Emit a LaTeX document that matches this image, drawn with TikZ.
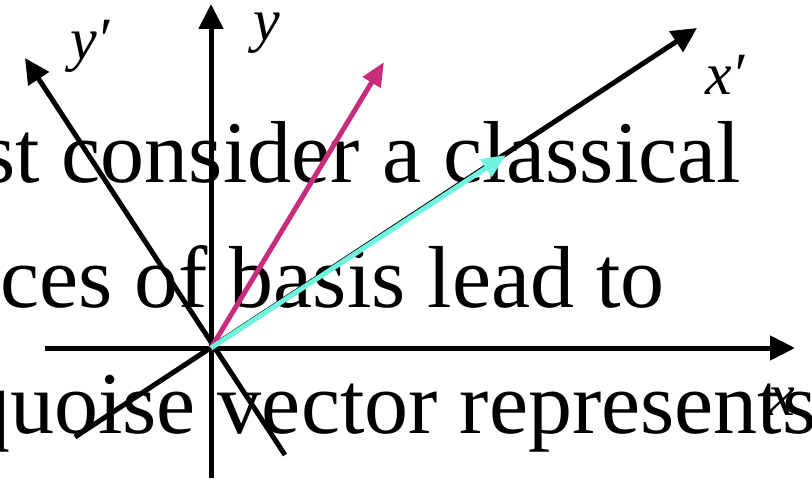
\documentclass[tikz,border=0pt]{standalone}
\usepackage{fontspec}
\setmainfont{Liberation Serif}
\usetikzlibrary{arrows.meta}
\definecolor{magvec}{HTML}{CA2C7C}
\definecolor{turqvec}{HTML}{70F4E0}

\begin{document}
\begin{tikzpicture}[x=1pt, y=-1pt,
  axis/.style={line width=5pt, -{Triangle[length=25pt,width=24pt]}},
  vec/.style={line width=5pt, -{Triangle[length=24pt,width=20pt]}},
  bgtext/.style={anchor=base west, inner sep=0pt, font=\fontsize{88}{100}\selectfont},
  lbl/.style={inner sep=0pt, font=\fontsize{60}{70}\selectfont\itshape}]
\useasboundingbox (0,0) rectangle (812,484);
\clip (0,0) rectangle (812,484);
% === slide text behind the axes ===
\node[bgtext] (line1) at (-19,183) {st consider a classical};
\node[bgtext] (line2) at (0,307) {ces of basis lead to};
\node[bgtext] (line3) at (-34,433) {quoise vector represents};

% === axes ===
\coordinate (O) at (211,348);
\coordinate (xs) at (45,348);   \coordinate (xe) at (795,348);
\coordinate (ys) at (211,478);  \coordinate (ye) at (211,4);
\coordinate (xps) at (75,437);  \coordinate (xpe) at (697,28);
\coordinate (yps) at (285,455); \coordinate (ype) at (25,58);
\draw[axis] (xs) -- (xe);
\draw[axis] (ys) -- (ye);
\draw[axis] (xps) -- (xpe);
\draw[axis] (yps) -- (ype);

% === vectors ===
\coordinate (mtip) at (384,62);
\coordinate (ttip) at (506,155);
\draw[vec, magvec] (O) -- (mtip);
\draw[vec, turqvec] (O) -- (ttip);

% === labels ===
\node[lbl] (yplbl) at (90,46) {y′};
\node[lbl] (ylbl) at (267,33) {y};
\node[lbl] (xplbl) at (725,75) {x′};
\node[lbl] (xlbl) at (782,402) {x};
\end{tikzpicture}
\end{document}
